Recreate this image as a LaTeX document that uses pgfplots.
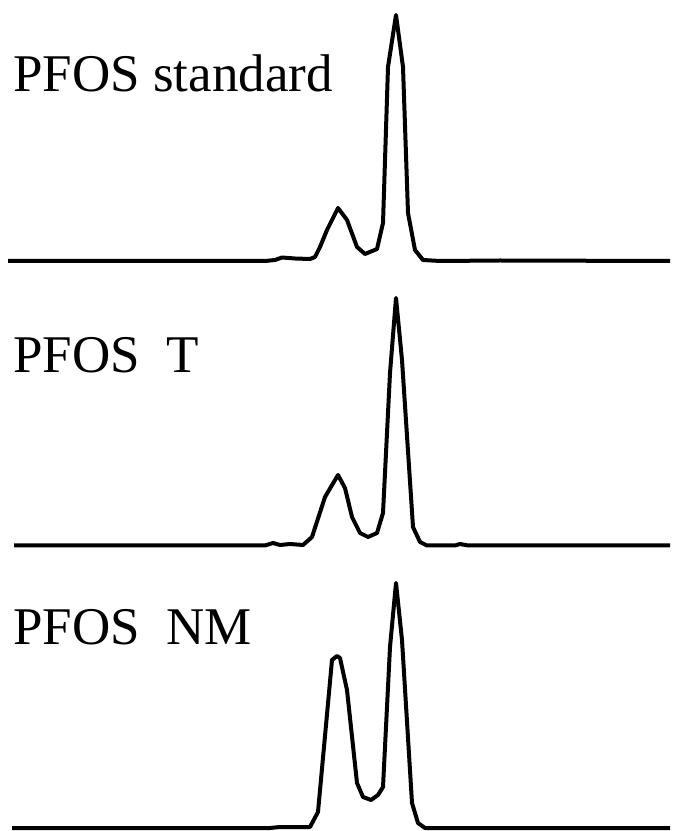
\documentclass[border=0pt]{standalone}
\usepackage{fontspec}
\setmainfont{Liberation Serif}
\usepackage{pgfplots}
\pgfplotsset{compat=1.18}
\pgfplotsset{
  trace/.style={
    scale only axis, width=673pt, hide axis,
    xmin=0, xmax=673, clip=false,
  },
  sig/.style={black, line width=4pt, line join=round, no marks},
}
\newcommand{\lab}{\fontsize{53}{60}\selectfont}

\begin{document}
\begin{tikzpicture}
% panel 1: PFOS standard
\begin{axis}[trace, height=283pt, ymin=-22, ymax=261, at={(0,548pt)}]
\addplot[sig] coordinates {
(8,0)(265,0)(275,1)(282,3.5)(295,2.5)(310,2)(315,4)(320,14)(327,31)(338,53)
(347,41)(357,14)(365,7)(377,12)(383,38)(388,194)(396,246)(403,194)(408,48)
(415,11)(423,1)(440,0)(500,0.5)(670,0)};
\node[anchor=base west, inner sep=0pt] at (axis cs:13,169) {\lab PFOS standard};
\end{axis}
% panel 2: PFOS T
\begin{axis}[trace, height=283pt, ymin=-20.5, ymax=262.5, at={(0,265pt)}]
\addplot[sig] coordinates {
(14,0)(265,0)(273,2.5)(280,0.5)(290,1.5)(303,0.5)(312,8.5)(325,48.5)(338,70.5)
(345,57.5)(352,28.5)(360,12.5)(368,8.5)(377,12.5)(383,32.5)(390,172.5)(396,247.5)
(402,185.5)(413,18.5)(420,3.5)(427,0)(455,0)(460,1.5)(468,0)(670,0)};
\node[anchor=base west, inner sep=0pt] at (axis cs:13,172.5) {\lab PFOS\ \ T};
\end{axis}
% panel 3: PFOS NM
\begin{axis}[trace, height=265pt, ymin=-3, ymax=262, at={(0,0pt)}]
\addplot[sig] coordinates {
(12,0)(270,0)(280,1)(310,1)(318,16)(332,168)(337,172)(340,170)(347,138)(357,45)
(363,31)(371,28)(378,33)(383,41)(390,181)(396,245)(402,188)(412,25)(418,5)
(425,0)(670,0)};
\node[anchor=base west, inner sep=0pt] at (axis cs:13,183) {\lab PFOS\ \ NM};
\end{axis}
\pgfresetboundingbox
\path[use as bounding box] (0,0) rectangle (673pt,831pt);
\end{tikzpicture}
\end{document}
